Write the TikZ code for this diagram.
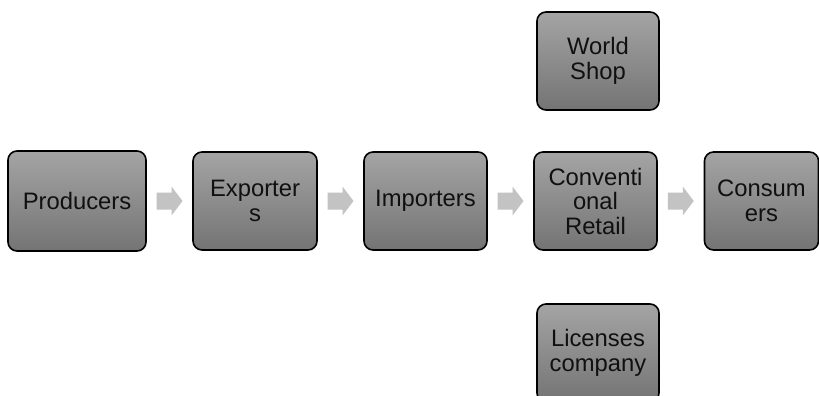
\documentclass[tikz,border=0pt]{standalone}
\usepackage{fontspec}
\setmainfont{Liberation Sans}
\usetikzlibrary{calc}
\definecolor{boxtop}{HTML}{A4A4A4}
\definecolor{boxbot}{HTML}{747474}
\definecolor{arrowgray}{HTML}{C3C3C3}
\definecolor{txt}{HTML}{101010}
\tikzset{
  stagebox/.style={draw=black, line width=1.6pt, rounded corners=9pt,
    top color=boxtop, bottom color=boxbot, align=center, text=txt,
    font=\fontsize{23.8}{24.5}\selectfont, inner sep=0pt},
  arrowfill/.style={fill=arrowgray}
}
\newcommand\fwdarrow[1]{\fill[arrowfill,shift={(#1)}] (-13,-8.5) -- (2,-8.5) -- (2,-14.5) -- (13,0) -- (2,14.5) -- (2,8.5) -- (-13,8.5) -- cycle;}
\begin{document}
\begin{tikzpicture}[x=1pt,y=-1pt]
\useasboundingbox (0,0) rectangle (819,396);
\fill[white] (0,0) rectangle (819,396);
\begin{scope}
\clip (0,0) rectangle (819,396);
\node[stagebox, minimum width=138pt, minimum height=100pt] (prod) at (77,201) {Producers};
\node[stagebox, minimum width=124pt, minimum height=98pt] (exp) at (255,201) {Exporter\\s};
\node[stagebox, minimum width=123pt, minimum height=98pt] (imp) at (425.5,201) {Importers};
\node[stagebox, minimum width=123pt, minimum height=98pt] (conv) at (595.5,201) {Conventi\\onal\\Retail};
\node[stagebox, minimum width=114pt, minimum height=98pt] (cons) at (761.5,201) {Consum\\ers};
\node[stagebox, minimum width=122pt, minimum height=98pt] (world) at (598,61) {World\\Shop};
\node[stagebox, minimum width=122pt, minimum height=98pt] (lic) at (598,353) {Licenses\\company};
\coordinate (a1) at ($(prod.east)!0.5!(exp.west)$);
\coordinate (a2) at ($(exp.east)!0.5!(imp.west)$);
\coordinate (a3) at ($(imp.east)!0.5!(conv.west)$);
\coordinate (a4) at ($(conv.east)!0.5!(cons.west)$);
\fwdarrow{a1}
\fwdarrow{a2}
\fwdarrow{a3}
\fwdarrow{a4}
\end{scope}
\end{tikzpicture}
\end{document}
